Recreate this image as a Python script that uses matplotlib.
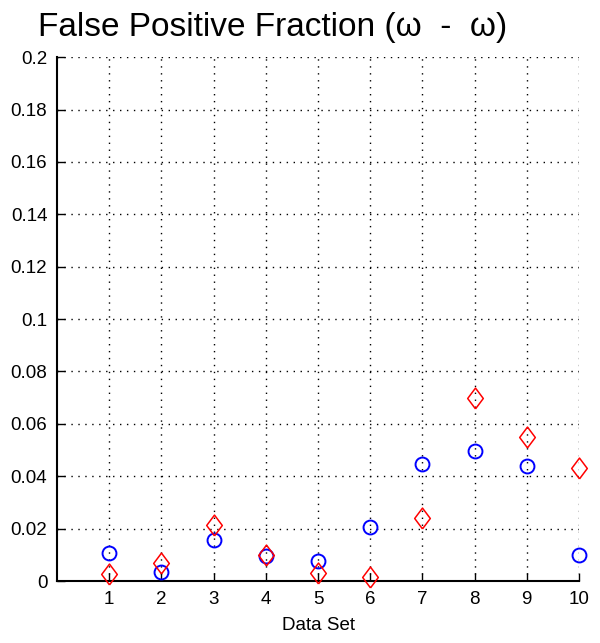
import matplotlib
matplotlib.use("Agg")
import matplotlib.pyplot as plt

datasets = [1, 2, 3, 4, 5, 6, 7, 8, 9, 10]
blue_circles = [0.0107, 0.0035, 0.0155, 0.0095, 0.0075, 0.0205, 0.0445, 0.0495, 0.044, 0.010]
red_diamonds = [0.0025, 0.007, 0.0215, 0.010, 0.003, 0.0015, 0.024, 0.070, 0.055, 0.043]
yticks = [0, 0.02, 0.04, 0.06, 0.08, 0.1, 0.12, 0.14, 0.16, 0.18, 0.2]
ytick_labels = ["0", "0.02", "0.04", "0.06", "0.08", "0.1", "0.12", "0.14", "0.16", "0.18", "0.2"]

plt.rcParams['font.family'] = ['Liberation Sans', 'DejaVu Sans']

fig = plt.figure(figsize=(6, 6.43), dpi=100)
ax = fig.add_axes([0.095, 0.0964, 0.870, 0.8146])

diamond = [(0, -1), (0.75, 0), (0, 1), (-0.75, 0), (0, -1)]
ax.plot(datasets, blue_circles, linestyle='none', marker='o', markersize=10,
        markerfacecolor='none', markeredgecolor='#0000ff', markeredgewidth=1.4, clip_on=False, zorder=3)
ax.plot(datasets, red_diamonds, linestyle='none', marker=diamond, markersize=15,
        markerfacecolor='none', markeredgecolor='#ff0000', markeredgewidth=1.1, clip_on=False, zorder=3)

ax.set_xlim(0, 10)
ax.set_ylim(0, 0.2)
ax.set_xticks(datasets)
ax.set_yticks(yticks)
ax.set_yticklabels(ytick_labels)
ax.tick_params(direction='in', length=6, labelsize=13.5, width=1, pad=7)
ax.grid(True, linestyle=(0, (1, 4)), color='black', linewidth=1)
ax.set_axisbelow(True)
for s in ['top', 'right']:
    ax.spines[s].set_visible(False)
for s in ['left', 'bottom']:
    ax.spines[s].set_linewidth(1.5)
ax.set_xlabel("Data Set", fontsize=13.5, labelpad=7)
fig.text(0.455, 0.958, "False Positive Fraction (ω  -  ω)", fontsize=24, ha='center', va='center')

fig.savefig("out.png", dpi=100)
